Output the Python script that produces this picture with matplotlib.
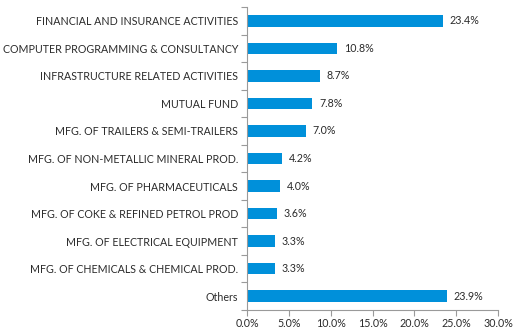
import matplotlib
matplotlib.use("Agg")
import matplotlib.pyplot as plt
from matplotlib.ticker import FuncFormatter, FixedLocator

# sector allocation, top to bottom
sectors = [
    "FINANCIAL AND INSURANCE ACTIVITIES",
    "COMPUTER PROGRAMMING & CONSULTANCY",
    "INFRASTRUCTURE RELATED ACTIVITIES",
    "MUTUAL FUND",
    "MFG. OF TRAILERS & SEMI-TRAILERS",
    "MFG. OF NON-METALLIC MINERAL PROD.",
    "MFG. OF PHARMACEUTICALS",
    "MFG. OF COKE & REFINED PETROL PROD",
    "MFG. OF ELECTRICAL EQUIPMENT",
    "MFG. OF CHEMICALS & CHEMICAL PROD.",
    "Others",
]
weights = [23.4, 10.8, 8.7, 7.8, 7.0, 4.2, 4.0, 3.6, 3.3, 3.3, 23.9]
xticks = [0, 5, 10, 15, 20, 25, 30]

plt.rcParams['font.family'] = ['Lato', 'DejaVu Sans']
blue = '#0090da'
grey = '#9a9a9a'
fs = 7.7

fig = plt.figure(figsize=(5.14, 3.30), dpi=100)
ax = fig.add_axes([247/514, 1 - 310/330, (498-247)/514, (310-7)/330])

pos = list(range(len(sectors)))
ax.barh(pos, weights, height=0.42, color=blue)
for p, w in zip(pos, weights):
    ax.text(w + 0.8, p, f"{w:.1f}%", va='center', ha='left', fontsize=fs, color='#2a2a2a')

ax.set_ylim(len(sectors) - 0.5, -0.5)
ax.set_xlim(0, 30)
ax.xaxis.set_major_locator(FixedLocator(xticks))
ax.xaxis.set_major_formatter(FuncFormatter(lambda v, _: f"{v:.1f}%"))

# labels at bar centres, tick marks at the category boundaries
ax.set_yticks(pos)
ax.set_yticklabels(sectors)
ax.set_yticks([p - 0.5 for p in pos] + [len(sectors) - 0.5], minor=True)
ax.tick_params(axis='y', which='major', length=0, pad=6.5, labelsize=fs, labelcolor='#2a2a2a')
ax.tick_params(axis='y', which='minor', length=4, color=grey, width=0.8)
ax.tick_params(axis='x', length=4, color=grey, width=0.8, labelsize=fs, labelcolor='#2a2a2a', pad=1.5)

for s in ['top', 'right']:
    ax.spines[s].set_visible(False)
for s in ['left', 'bottom']:
    ax.spines[s].set_color(grey)
    ax.spines[s].set_linewidth(0.8)

fig.savefig("out.png", dpi=100)
